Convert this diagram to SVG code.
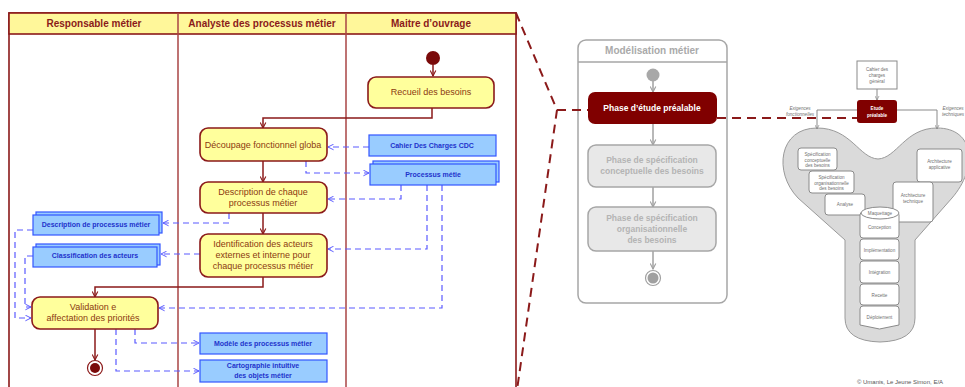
<svg xmlns="http://www.w3.org/2000/svg" width="965" height="387" viewBox="0 0 965 387">
<defs>
<style>
.lane{fill:#fff;stroke:#8b1a1a;stroke-width:1.6}
.lanediv{stroke:#a84444;stroke-width:1.5}
.head{fill:#fff79a;stroke:#8b1a1a;stroke-width:1.6}
.htxt{font-family:"Liberation Sans",Arial,sans-serif;font-size:10px;font-weight:bold;fill:#8b1a1a;text-anchor:middle}
.act{fill:#ffff9c;stroke:#8b1a1a;stroke-width:1.6}
.atxt{font-family:"Liberation Sans",Arial,sans-serif;font-size:9px;fill:#8b3a10;text-anchor:middle}
.obj{fill:#99ccff;stroke:#3355ff;stroke-width:1.2}
.otxt{font-family:"Liberation Sans",Arial,sans-serif;font-size:7px;font-weight:bold;fill:#2233cc;text-anchor:middle}
.flow{fill:none;stroke:#8b1a1a;stroke-width:1.5;marker-end:url(#ar)}
.dep{fill:none;stroke:#5a5aff;stroke-width:1.2;stroke-dasharray:6,4;marker-end:url(#ab)}
.link{fill:none;stroke:#8b1a1a;stroke-width:2;stroke-dasharray:9,6}
.gframe{fill:#fff;stroke:#a6a6a6;stroke-width:1.5}
.gtitle{font-family:"Liberation Sans",Arial,sans-serif;font-size:10px;font-weight:bold;fill:#aaaaaa;text-anchor:middle}
.gbox{fill:#e8e8e8;stroke:#a6a6a6;stroke-width:1.5}
.gtxt{font-family:"Liberation Sans",Arial,sans-serif;font-size:8.5px;font-weight:bold;fill:#b4b4b4;text-anchor:middle}
.gflow{fill:none;stroke:#a0a0a0;stroke-width:1.5;marker-end:url(#ag)}
.rbox{fill:#fff;stroke:#8a8a8a;stroke-width:1}
.rtxt{font-family:"Liberation Sans",Arial,sans-serif;font-size:4.6px;fill:#707070;text-anchor:middle}
.rlbl{font-family:"Liberation Sans",Arial,sans-serif;font-size:4.6px;font-style:italic;fill:#707070;text-anchor:middle}
.rflow{fill:none;stroke:#8a8a8a;stroke-width:1;marker-end:url(#ag2)}
</style>
<marker id="ar" viewBox="0 0 10 10" refX="9" refY="5" markerWidth="7" markerHeight="7" orient="auto" markerUnits="userSpaceOnUse">
<path d="M1,1 L9,5 L1,9" fill="none" stroke="#8b1a1a" stroke-width="1.6"/>
</marker>
<marker id="ab" viewBox="0 0 10 10" refX="9" refY="5" markerWidth="7" markerHeight="7" orient="auto" markerUnits="userSpaceOnUse">
<path d="M1,1 L9,5 L1,9" fill="none" stroke="#5a5aff" stroke-width="1.4"/>
</marker>
<marker id="ag" viewBox="0 0 10 10" refX="9" refY="5" markerWidth="7" markerHeight="7" orient="auto" markerUnits="userSpaceOnUse">
<path d="M1,1 L9,5 L1,9" fill="none" stroke="#a0a0a0" stroke-width="1.6"/>
</marker>
<marker id="ag2" viewBox="0 0 10 10" refX="9" refY="5" markerWidth="5" markerHeight="5" orient="auto" markerUnits="userSpaceOnUse">
<path d="M1,1 L9,5 L1,9" fill="none" stroke="#8a8a8a" stroke-width="1.4"/>
</marker>
</defs>

<!-- Swimlanes -->
<g id="swimlanes">
<rect class="lane" x="9" y="13" width="507" height="400"/>
<rect class="head" x="9" y="13" width="507" height="21"/>
<line class="lanediv" x1="178" y1="13" x2="178" y2="400"/>
<line class="lanediv" x1="346" y1="13" x2="346" y2="400"/>
<text class="htxt" x="94" y="27">Responsable métier</text>
<text class="htxt" x="262" y="27">Analyste des processus métier</text>
<text class="htxt" x="431" y="27">Maitre d’ouvrage</text>
</g>

<!-- Modélisation métier frame -->
<g id="modelisation">
<rect class="gframe" x="578" y="40" width="149" height="263" rx="8"/>
<line x1="578" y1="62" x2="727" y2="62" stroke="#a6a6a6" stroke-width="1.5"/>
<text class="gtitle" x="652" y="54">Modélisation métier</text>
</g>

<!-- Process funnel -->
<g id="funnel">
<path d="M845,240 L845,318 Q845,341 880,342 Q915,341 915,318 L915,240 L952,198 C978,168 975,128 937,128 C905,128 897,158 878,159 C859,158 851,128 817,128 C779,128 773,172 798,198 Z" fill="#dadada" stroke="#9a9a9a" stroke-width="1"/>
</g>

<!-- Connectors -->
<g id="connectors">
<line class="flow" x1="433" y1="65" x2="433" y2="76"/>
<polyline class="flow" points="432,108 432,118 263,118 263,128"/>
<line class="flow" x1="263" y1="161" x2="263" y2="182"/>
<line class="flow" x1="263" y1="213" x2="263" y2="234"/>
<polyline class="flow" points="263,277 263,287 95,287 95,297"/>
<line class="flow" x1="95" y1="329" x2="95" y2="360"/>

<line class="dep" x1="369" y1="147" x2="328" y2="147"/>
<polyline class="dep" points="306,161 306,173 369,173"/>
<polyline class="dep" points="401,185 401,199 328,199"/>
<polyline class="dep" points="427,185 427,249 328,249"/>
<polyline class="dep" points="442,185 442,308 159,308"/>
<polyline class="dep" points="229,213 229,223 163,223"/>
<line class="dep" x1="200" y1="254" x2="161" y2="254"/>
<polyline class="dep" points="33,230 15,230 15,318 31,318"/>
<polyline class="dep" points="33,256 25,256 25,307 31,307"/>
<polyline class="dep" points="135,329 135,343 199,343"/>
<polyline class="dep" points="116,329 116,371 199,371"/>

<polyline class="link" points="516,13 557,110 517,390"/>
<line class="link" x1="557" y1="110" x2="588" y2="110"/>
<line class="link" x1="717" y1="118" x2="857" y2="118"/>

<line class="gflow" x1="653" y1="81" x2="653" y2="92"/>
<line class="gflow" x1="653" y1="124" x2="653" y2="145"/>
<line class="gflow" x1="653" y1="187" x2="653" y2="207"/>
<line class="gflow" x1="653" y1="251" x2="653" y2="269"/>

<line class="rflow" x1="877" y1="89" x2="877" y2="100"/>
<polyline class="rflow" points="857,110 817,110 817,129"/>
<polyline class="rflow" points="897,110 937,110 937,129"/>
</g>

<!-- Activities -->
<g id="start"><circle cx="433" cy="58" r="7" fill="#7a0a0a"/></g>
<g id="recueil">
<rect class="act" x="368" y="77" width="126" height="31" rx="8"/>
<text class="atxt" x="431" y="95">Recueil des besoins</text>
</g>
<g id="decoupage">
<rect class="act" x="200" y="128" width="127" height="33" rx="8"/>
<text class="atxt" x="263" y="148">Découpage fonctionnel globa</text>
</g>
<g id="description">
<rect class="act" x="200" y="182" width="127" height="31" rx="8"/>
<text class="atxt" x="263" y="195">Description de chaque</text>
<text class="atxt" x="263" y="205.5">processus métier</text>
</g>
<g id="identification">
<rect class="act" x="200" y="234" width="127" height="43" rx="8"/>
<text class="atxt" x="263" y="247">Identification des acteurs</text>
<text class="atxt" x="263" y="258">externes et interne pour</text>
<text class="atxt" x="263" y="269">chaque processus métier</text>
</g>
<g id="validation">
<rect class="act" x="32" y="297" width="126" height="32" rx="8"/>
<text class="atxt" x="93" y="310">Validation e</text>
<text class="atxt" x="93" y="321">affectation des priorités</text>
</g>
<g id="end">
<circle cx="95" cy="368" r="7.5" fill="#fff" stroke="#8b1a1a" stroke-width="1.2"/>
<circle cx="95" cy="368" r="5" fill="#7a0a0a"/>
</g>

<!-- Objects -->
<g id="cdc">
<rect class="obj" x="369" y="135" width="127" height="21"/>
<text class="otxt" x="432" y="148">Cahier Des Charges  CDC</text>
</g>
<g id="processus">
<rect class="obj" x="373" y="161" width="126" height="21"/>
<rect class="obj" x="370" y="164" width="126" height="21"/>
<text class="otxt" x="433" y="177">Processus métie</text>
</g>
<g id="descproc">
<rect class="obj" x="36" y="212" width="126" height="21"/>
<rect class="obj" x="33" y="215" width="126" height="20"/>
<text class="otxt" x="96" y="227">Description de processus métier</text>
</g>
<g id="classification">
<rect class="obj" x="36" y="244" width="124" height="21"/>
<rect class="obj" x="33" y="247" width="124" height="20"/>
<text class="otxt" x="95" y="258">Classification des acteurs</text>
</g>
<g id="modele">
<rect class="obj" x="200" y="333" width="127" height="21"/>
<text class="otxt" x="263" y="346">Modèle des processus métier</text>
</g>
<g id="cartographie">
<rect class="obj" x="200" y="360" width="127" height="22"/>
<text class="otxt" x="263" y="368">Cartographie intuitive</text>
<text class="otxt" x="263" y="378">des objets métier</text>
</g>

<!-- Phases -->
<g id="gstart"><circle cx="653" cy="75" r="6.5" fill="#a8a8a8"/></g>
<g id="etude">
<rect x="588" y="92" width="129" height="32" rx="7" fill="#800000"/>
<text class="gtxt" x="652" y="111" style="fill:#fff">Phase d’étude préalable</text>
</g>
<g id="conceptuelle">
<rect class="gbox" x="588" y="145" width="128" height="42" rx="8"/>
<text class="gtxt" x="652" y="163">Phase de spécification</text>
<text class="gtxt" x="652" y="174">conceptuelle des besoins</text>
</g>
<g id="organisationnelle">
<rect class="gbox" x="588" y="207" width="128" height="44" rx="8"/>
<text class="gtxt" x="652" y="221">Phase de spécification</text>
<text class="gtxt" x="652" y="232">organisationnelle</text>
<text class="gtxt" x="652" y="243">des besoins</text>
</g>
<g id="gend">
<circle cx="653" cy="278" r="7.5" fill="#fff" stroke="#a0a0a0" stroke-width="1.2"/>
<circle cx="653" cy="278" r="5.5" fill="#a0a0a0"/>
</g>

<!-- Funnel steps -->
<g id="cahiergeneral">
<rect class="rbox" x="857" y="61" width="40" height="28"/>
<text class="rtxt" x="877" y="70.5">Cahier des</text>
<text class="rtxt" x="877" y="76.5">charges</text>
<text class="rtxt" x="877" y="82.5">général</text>
</g>
<g id="etudeprealable">
<rect x="857" y="100" width="40" height="23" rx="3" fill="#800000"/>
<text class="rtxt" x="877" y="109.5" style="fill:#fff;font-weight:bold">Etude</text>
<text class="rtxt" x="877" y="116.5" style="fill:#fff;font-weight:bold">préalable</text>
</g>
<g id="exigences">
<text class="rlbl" x="800" y="110">Exigences</text>
<text class="rlbl" x="800" y="115.5">fonctionnelles</text>
<text class="rlbl" x="953" y="110">Exigences</text>
<text class="rlbl" x="953" y="115.5">techniques</text>
</g>
<g id="specconc">
<rect class="rbox" x="798" y="148" width="39" height="22" rx="3"/>
<text class="rtxt" x="817.5" y="156">Spécification</text>
<text class="rtxt" x="817.5" y="161.5">conceptuelle</text>
<text class="rtxt" x="817.5" y="167">des besoins</text>
</g>
<g id="specorg">
<rect class="rbox" x="809" y="171" width="45" height="22" rx="3"/>
<text class="rtxt" x="831.5" y="179">Spécification</text>
<text class="rtxt" x="831.5" y="184.5">organisationnelle</text>
<text class="rtxt" x="831.5" y="190">des besoins</text>
</g>
<g id="analyse">
<rect class="rbox" x="825" y="194" width="40" height="21" rx="3"/>
<text class="rtxt" x="845" y="206">Analyse</text>
</g>
<g id="archappli">
<rect class="rbox" x="917" y="149" width="45" height="33" rx="3"/>
<text class="rtxt" x="939.5" y="163">Architecture</text>
<text class="rtxt" x="939.5" y="169">applicative</text>
</g>
<g id="archtech">
<rect class="rbox" x="893" y="182" width="40" height="40" rx="3"/>
<text class="rtxt" x="913" y="197">Architecture</text>
<text class="rtxt" x="913" y="203">technique</text>
</g>
<g id="conception">
<rect class="rbox" x="860" y="212" width="39" height="26" rx="3"/>
<text class="rtxt" x="879.5" y="229">Conception</text>
</g>
<g id="maquettage">
<ellipse class="rbox" cx="880" cy="213" rx="19" ry="6"/>
<text class="rtxt" x="880" y="215">Maquettage</text>
</g>
<g id="implementation">
<rect class="rbox" x="860" y="239" width="39" height="21" rx="3"/>
<text class="rtxt" x="879.5" y="251.5">Implémentation</text>
</g>
<g id="integration">
<rect class="rbox" x="860" y="261" width="39" height="22" rx="3"/>
<text class="rtxt" x="879.5" y="274">Intégration</text>
</g>
<g id="recette">
<rect class="rbox" x="860" y="284" width="39" height="21" rx="3"/>
<text class="rtxt" x="879.5" y="296.5">Recette</text>
</g>
<g id="deploiement">
<path class="rbox" d="M863,306 L896,306 Q899,306 899,309 L899,325 L879.5,329 L860,325 L860,309 Q860,306 863,306 Z"/>
<text class="rtxt" x="879.5" y="319">Déploiement</text>
</g>
<text x="900" y="384" font-family="'Liberation Sans',Arial,sans-serif" font-size="6px" fill="#555" text-anchor="middle">© Umanis, Le Jeune Simon, E/A</text>
</svg>
